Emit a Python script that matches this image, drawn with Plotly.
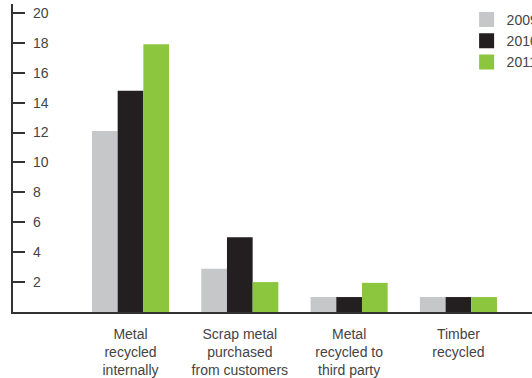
import plotly.graph_objects as go

categories = ["Metal<br>recycled<br>internally", "Scrap metal<br>purchased<br>from customers",
              "Metal<br>recycled to<br>third party", "Timber<br>recycled"]
years = ["2009", "2010", "2011"]
v2009 = [12.1, 2.9, 1.0, 1.0]
v2010 = [14.8, 5.0, 1.0, 1.0]
v2011 = [17.9, 2.0, 1.95, 1.0]
colors = ["#c6c7c9", "#231f20", "#8cc63f"]
ytick_vals = [2, 4, 6, 8, 10, 12, 14, 16, 18, 20]

series = [v2009, v2010, v2011]
xpos = list(range(len(categories)))

fig = go.Figure()
for name, vals, col in zip(years, series, colors):
    fig.add_trace(go.Bar(x=xpos, y=vals, name=name, marker=dict(color=col, line=dict(width=0)),
                         showlegend=False))
for i, (name, col) in enumerate(zip(years, colors)):
    fig.add_trace(go.Scatter(x=[None], y=[None], mode="markers", name=name,
                             legendgroup=f"g{i}",
                             marker=dict(symbol="square", size=15, color=col)))

font = dict(family="Liberation Sans, Arial, sans-serif", size=14, color="#444444")
fig.update_layout(
    width=532, height=378,
    margin=dict(l=13, r=0, t=4, b=66, autoexpand=False),
    paper_bgcolor="white", plot_bgcolor="white",
    barmode="group", bargap=0.295, bargroupgap=0,
    font=font,
    legend=dict(x=0.874, y=1.0, xanchor="left", yanchor="top", bgcolor="rgba(0,0,0,0)",
                tracegroupgap=0, font=font, borderwidth=0),
    xaxis=dict(range=[-1.075, 3.673], tickvals=xpos, ticktext=categories, showgrid=False,
               zeroline=False, showline=True, linecolor="#333333", linewidth=1.5, ticks="",
               automargin=False, ticklabelstandoff=8),
    yaxis=dict(range=[0, 20.6], tickvals=ytick_vals, showgrid=False, zeroline=False,
               showline=True, linecolor="#333333", linewidth=1.5, ticks="inside", ticklen=12,
               tickwidth=1.5, tickcolor="#333333", ticklabelposition="inside",
               ticklabelstandoff=8, automargin=False),
)
fig.write_html("out.html", config={"displayModeBar": False},
               post_script="document.body.style.margin='0';")
